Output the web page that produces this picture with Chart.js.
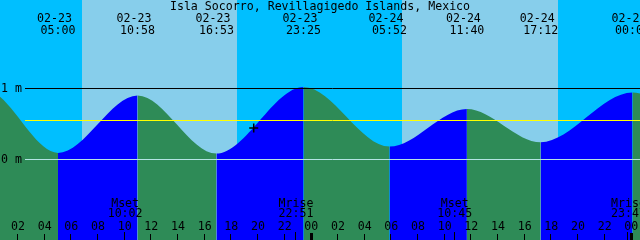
<!DOCTYPE html>
<html><head><meta charset="utf-8">
<style>html,body{margin:0;padding:0;background:#00BFFF;overflow:hidden}#wrap{width:640px;height:240px}</style>
<script src="https://cdn.jsdelivr.net/npm/chart.js@4/dist/chart.umd.min.js"></script>
</head><body><div id="wrap"><canvas id="c" width="640" height="240"></canvas></div>
<script>
const title = 'Isla Socorro, Revillagigedo Islands, Mexico';
// times are hours after 02-23 00:00 (local)
const tideTimes   = [-7.5, -0.5, 5.0, 10.967, 16.883, 23.417, 29.867, 35.667, 41.2, 48.083, 54.6, 61.0];
const tideHeights = [0.12, 0.98, 0.09, 0.90,  0.08,   1.02,   0.18,   0.71,   0.24, 0.94,   0.27, 0.85];
const extremeTimes = [5.0, 10.967, 16.883, 23.417, 29.867, 35.667, 41.2, 48.083];
const extremeDates = ['02-23','02-23','02-23','02-23','02-24','02-24','02-24','02-25'];
const extremeClock = ['05:00','10:58','16:53','23:25','05:52','11:40','17:12','00:05'];
const sunriseTimes = [6.82, 30.82];
const sunsetTimes  = [18.45, 42.52];
const moonTimes = [10.033, 22.85, 34.75, 47.783];
const moonNames = ['Mset','Mrise','Mset','Mrise'];
const moonClock = ['10:02','22:51','10:45','23:47'];
const tickHours  = [2,4,6,8,10,12,14,16,18,20,22,24,26,28,30,32,34,36,38,40,42,44,46,48];
const tickLabels = ['02','04','06','08','10','12','14','16','18','20','22','00','02','04','06','08','10','12','14','16','18','20','22','00'];
const levelValues = [1, 0];
const levelLabels = ['1 m', '0 m'];
const meanLevel = 0.55;
const nowTime = [19.68];
const nowHeight = [0.44];

const NIGHT = '#00BFFF', DAY = '#87CEEB', FLOOD = '#0000FF', EBB = '#2E8B57';
const FONT = '11.6px "DejaVu Sans Mono", monospace';

const tidePoints = tideTimes.map((t, i) => ({x: t, y: tideHeights[i]}));
const nowPoints = nowTime.map((t, i) => ({x: t, y: nowHeight[i]}));

const decor = {
  id: 'decor',
  beforeDatasetsDraw(chart) {
    const {ctx, chartArea: a, scales: {x}} = chart;
    ctx.save();
    ctx.fillStyle = NIGHT;
    ctx.fillRect(a.left, a.top, a.right - a.left, a.bottom - a.top);
    ctx.fillStyle = DAY;
    sunriseTimes.forEach((s, i) => {
      const x0 = Math.round(x.getPixelForValue(s));
      const x1 = Math.round(x.getPixelForValue(sunsetTimes[i]));
      ctx.fillRect(x0, a.top, x1 - x0, a.bottom - a.top);
    });
    ctx.restore();
  },
  afterDatasetsDraw(chart) {
    const {ctx, chartArea: a, scales: {x, y}} = chart;
    ctx.save();
    const lineStart = 25;
    const hl = (v, color) => {
      const py = Math.floor(y.getPixelForValue(v)) + 0.5;
      ctx.strokeStyle = color; ctx.lineWidth = 1;
      ctx.beginPath(); ctx.moveTo(lineStart, py); ctx.lineTo(a.right, py); ctx.stroke();
    };
    hl(levelValues[0], '#000000');
    hl(meanLevel, '#FFFF00');
    hl(levelValues[1], '#B4E4E4');
    ctx.font = FONT;
    ctx.fillStyle = '#000';
    ctx.textAlign = 'left';
    ctx.textBaseline = 'middle';
    levelValues.forEach((v, i) => ctx.fillText(levelLabels[i], 1, Math.floor(y.getPixelForValue(v)) + 0.5));
    ctx.textBaseline = 'alphabetic';
    ctx.textAlign = 'center';
    ctx.fillText(title, (a.left + a.right) / 2, 10);
    extremeTimes.forEach((t, i) => {
      const px = x.getPixelForValue(t);
      ctx.fillText(extremeDates[i], px - 3.5, 22);
      ctx.fillText(extremeClock[i], px, 34);
    });
    moonTimes.forEach((t, i) => {
      const px = x.getPixelForValue(t);
      ctx.fillText(moonNames[i], px, 207);
      ctx.fillText(moonClock[i], px, 217);
      ctx.fillRect(Math.round(px) - 1, 232, 1, 8);
    });
    tickHours.forEach((h, i) => {
      const px = x.getPixelForValue(h);
      ctx.fillText(tickLabels[i], px, 230);
      if (h % 24 === 0) ctx.fillRect(Math.round(px) - 1, 233, 3, 7);
      else ctx.fillRect(Math.round(px) - 1, 234, 1, 6);
    });
    ctx.restore();
  }
};

new Chart(document.getElementById('c'), {
  type: 'line',
  data: {
    datasets: [
      {
        type: 'scatter', data: nowPoints, order: 0,
        pointStyle: 'cross', pointRadius: 4.5, borderColor: '#000', backgroundColor: '#000',
        pointBorderWidth: 1.5, showLine: false
      },
      {
        data: tidePoints, order: 1,
        fill: 'start',
        cubicInterpolationMode: 'monotone',
        borderWidth: 0, borderColor: 'rgba(0,0,0,0)',
        pointRadius: 0, pointHoverRadius: 0,
        backgroundColor: EBB,
        segment: {
          backgroundColor: c => (c.p1.parsed.y > c.p0.parsed.y ? FLOOD : EBB),
          borderColor: 'rgba(0,0,0,0)'
        }
      }
    ]
  },
  options: {
    responsive: false, animation: false, devicePixelRatio: 1,
    layout: {padding: 0, autoPadding: false},
    plugins: {legend: {display: false}, tooltip: {enabled: false}},
    events: [],
    scales: {
      x: {type: 'linear', min: 0.65, max: 48.65, display: false},
      y: {type: 'linear', min: -1.137, max: 2.244, display: false}
    }
  },
  plugins: [decor]
});
</script>
</body></html>
